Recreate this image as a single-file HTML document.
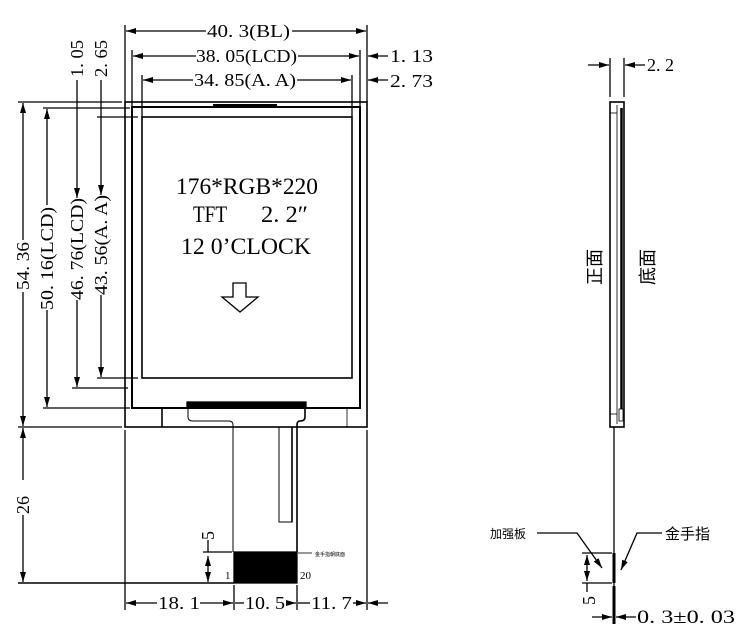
<!DOCTYPE html>
<html><head><meta charset="utf-8"><style>
html,body{margin:0;padding:0;background:#fff}
svg{display:block}
text{font-family:"Liberation Serif","Noto Serif CJK SC",serif;fill:#000}
.c{font-family:"Liberation Sans","Noto Sans CJK SC",sans-serif}
</style></head><body>
<svg width="749" height="644" viewBox="0 0 749 644" xmlns="http://www.w3.org/2000/svg">
<defs>
<marker id="a" viewBox="0 0 10 6" refX="10" refY="3" markerWidth="10" markerHeight="6" orient="auto-start-reverse" markerUnits="userSpaceOnUse"><path d="M0,0 L10,3 L0,6 z" fill="#000"/></marker>
</defs>
<g stroke="#000" fill="none" stroke-width="1.3">
<rect x="125" y="102" width="242" height="325" stroke-width="1.6"/>
<rect x="132" y="107" width="228" height="301" stroke-width="2"/>
<rect x="142" y="117" width="210" height="261" stroke-width="1.6"/>
<line x1="213" y1="105" x2="277" y2="105" stroke-width="2"/>
<line x1="162" y1="408" x2="162" y2="427" stroke-width="1.6"/>
<line x1="347" y1="408" x2="347" y2="427" stroke-width="0.8"/>
<rect x="187" y="402" width="119" height="6" fill="#000"/>
<path d="M188,408 V417 Q188,421 193,421 H229 Q233,421 233,425 V552" stroke-width="1"/>
<path d="M305,408 V417 Q305,421 300,421 Q297,421 297,425 V552" stroke-width="1.6"/>
<rect x="279" y="427" width="13" height="95" stroke-width="1"/>
<line x1="292" y1="427" x2="292" y2="522" stroke-width="1.6"/>
<rect x="234" y="552" width="63" height="31" fill="#000"/>
<line x1="18" y1="583" x2="234" y2="583" stroke-width="1.6"/>
<line x1="125" y1="25" x2="125" y2="102"/>
<line x1="367" y1="25" x2="367" y2="102"/>
<line x1="132" y1="50" x2="132" y2="107"/>
<line x1="360" y1="50" x2="360" y2="107"/>
<line x1="142" y1="75" x2="142" y2="117"/>
<line x1="352" y1="75" x2="352" y2="117"/>
<line x1="125" y1="430" x2="125" y2="610"/>
<line x1="367" y1="430" x2="367" y2="610"/>
<line x1="234" y1="585" x2="234" y2="610"/>
<line x1="297" y1="585" x2="297" y2="610"/>
<line x1="18" y1="102" x2="122" y2="102"/>
<line x1="18" y1="427" x2="122" y2="427"/>
<line x1="43" y1="108" x2="130" y2="108"/>
<line x1="43" y1="408" x2="130" y2="408"/>
<line x1="72" y1="388" x2="128" y2="388"/>
<line x1="97" y1="117" x2="138" y2="117"/>
<line x1="97" y1="378" x2="138" y2="378"/>
<line x1="203" y1="552" x2="232" y2="552"/>
<line x1="126" y1="31" x2="206" y2="31" marker-start="url(#a)"/>
<line x1="292" y1="31" x2="366" y2="31" marker-end="url(#a)"/>
<line x1="133" y1="56" x2="196" y2="56" marker-start="url(#a)"/>
<line x1="298" y1="56" x2="359" y2="56" marker-end="url(#a)"/>
<line x1="143" y1="80" x2="193" y2="80" marker-start="url(#a)"/>
<line x1="297" y1="80" x2="351" y2="80" marker-end="url(#a)"/>
<line x1="388" y1="56" x2="368" y2="56" marker-end="url(#a)"/>
<line x1="388" y1="80" x2="368" y2="80" marker-end="url(#a)"/>
<line x1="23" y1="103" x2="23" y2="240" marker-start="url(#a)"/>
<line x1="23" y1="292" x2="23" y2="426" marker-end="url(#a)"/>
<line x1="23" y1="428" x2="23" y2="480" marker-start="url(#a)"/>
<line x1="23" y1="515" x2="23" y2="582" marker-end="url(#a)"/>
<line x1="47" y1="109" x2="47" y2="205" marker-start="url(#a)"/>
<line x1="47" y1="310" x2="47" y2="407" marker-end="url(#a)"/>
<line x1="77" y1="80" x2="77" y2="198" marker-end="url(#a)"/>
<line x1="77" y1="300" x2="77" y2="387" marker-end="url(#a)"/>
<line x1="101" y1="80" x2="101" y2="195" marker-end="url(#a)"/>
<line x1="101" y1="295" x2="101" y2="377" marker-end="url(#a)"/>
<line x1="208" y1="556" x2="208" y2="582" marker-start="url(#a)" marker-end="url(#a)"/>
<line x1="208" y1="540" x2="208" y2="552"/>
<line x1="126" y1="603" x2="157" y2="603" marker-start="url(#a)"/>
<line x1="200" y1="603" x2="233" y2="603" marker-end="url(#a)"/>
<line x1="235" y1="603" x2="244" y2="603"/>
<line x1="286" y1="603" x2="296" y2="603" marker-end="url(#a)"/>
<line x1="298" y1="603" x2="310" y2="603"/>
<line x1="353" y1="603" x2="366" y2="603" marker-end="url(#a)"/>
<line x1="388" y1="603" x2="368" y2="603" marker-end="url(#a)"/>
<path d="M233,283 H246 V297 H258 L240,312 L222,297 H233 Z"/>
<line x1="298" y1="553" x2="312" y2="553" stroke-width="0.8"/>
<rect x="610" y="102" width="14" height="325" stroke-width="1.6"/>
<line x1="617" y1="105" x2="617" y2="424" stroke-width="0.8"/>
<line x1="621.5" y1="108" x2="621.5" y2="420" stroke-width="2.5"/>
<line x1="610" y1="113" x2="617" y2="113" stroke-width="0.8"/>
<line x1="610" y1="414" x2="617" y2="414" stroke-width="0.8"/>
<rect x="619" y="409" width="4" height="12" fill="#fff" stroke-width="0.8"/>
<line x1="614" y1="427" x2="614" y2="620" stroke-width="1.3"/>
<line x1="614" y1="553" x2="614" y2="583" stroke-width="3"/>
<line x1="614" y1="586" x2="614" y2="624" stroke-width="3"/>
<line x1="610" y1="58" x2="610" y2="97"/>
<line x1="624" y1="58" x2="624" y2="97"/>
<line x1="588" y1="65" x2="609" y2="65" marker-end="url(#a)"/>
<line x1="645" y1="65" x2="625" y2="65" marker-end="url(#a)"/>
<line x1="582" y1="553" x2="612" y2="553"/>
<line x1="582" y1="583" x2="612" y2="583"/>
<line x1="587" y1="555" x2="587" y2="581" marker-start="url(#a)" marker-end="url(#a)"/>
<line x1="587" y1="583" x2="587" y2="592"/>
<line x1="592" y1="617" x2="612" y2="617" marker-end="url(#a)"/>
<line x1="636" y1="617" x2="616" y2="617" marker-end="url(#a)"/>
<path d="M537,533 H577 L602,568" marker-end="url(#a)"/>
<path d="M662,533 H637 L621,570" marker-end="url(#a)"/>
</g>
<g font-size="18">
<text x="207" y="37" textLength="83" lengthAdjust="spacingAndGlyphs">40. 3(BL)</text>
<text x="196" y="62" textLength="101" lengthAdjust="spacingAndGlyphs">38. 05(LCD)</text>
<text x="194" y="86" textLength="102" lengthAdjust="spacingAndGlyphs">34. 85(A. A)</text>
<text x="390" y="62" textLength="43" lengthAdjust="spacingAndGlyphs">1. 13</text>
<text x="390" y="87" textLength="43" lengthAdjust="spacingAndGlyphs">2. 73</text>
<text x="158" y="609" textLength="42" lengthAdjust="spacingAndGlyphs">18. 1</text>
<text x="245" y="609" textLength="40" lengthAdjust="spacingAndGlyphs">10. 5</text>
<text x="311" y="609" textLength="41" lengthAdjust="spacingAndGlyphs">11. 7</text>
<text x="637" y="623" textLength="98" lengthAdjust="spacingAndGlyphs" font-size="19">0. 3±0. 03</text>
<text x="647" y="71" textLength="27" lengthAdjust="spacingAndGlyphs">2. 2</text>
<text transform="translate(29,290) rotate(-90)" textLength="48" lengthAdjust="spacingAndGlyphs">54. 36</text>
<text transform="translate(29,514) rotate(-90)">26</text>
<text transform="translate(53,310) rotate(-90)" textLength="103" lengthAdjust="spacingAndGlyphs">50. 16(LCD)</text>
<text transform="translate(83,300) rotate(-90)" textLength="102" lengthAdjust="spacingAndGlyphs">46. 76(LCD)</text>
<text transform="translate(107,295) rotate(-90)" textLength="100" lengthAdjust="spacingAndGlyphs">43. 56(A. A)</text>
<text transform="translate(83,77) rotate(-90)" textLength="37" lengthAdjust="spacingAndGlyphs">1. 05</text>
<text transform="translate(107,77) rotate(-90)" textLength="37" lengthAdjust="spacingAndGlyphs">2. 65</text>
<text transform="translate(214,540) rotate(-90)">5</text>
<text transform="translate(595,605) rotate(-90)">5</text>
</g>
<g font-size="23">
<text x="176" y="194" textLength="142" lengthAdjust="spacingAndGlyphs">176*RGB*220</text>
<text x="193" y="222" textLength="34" lengthAdjust="spacingAndGlyphs">TFT</text>
<text x="261" y="222" textLength="47" lengthAdjust="spacingAndGlyphs">2. 2″</text>
<text x="181" y="254" textLength="130" lengthAdjust="spacingAndGlyphs">12 0’CLOCK</text>
</g>
<text x="225" y="579" font-size="11">1</text>
<text x="300" y="579" font-size="11">20</text>
<text x="315" y="556" font-size="5" class="c">金手指朝底面</text>
<text x="490" y="538" font-size="12" class="c">加强板</text>
<text x="665" y="539" font-size="15" class="c">金手指</text>
<text transform="translate(601,285) rotate(-90)" font-size="18" class="c">正面</text>
<text transform="translate(654,285) rotate(-90)" font-size="18" class="c">底面</text>
</svg>
</body></html>
